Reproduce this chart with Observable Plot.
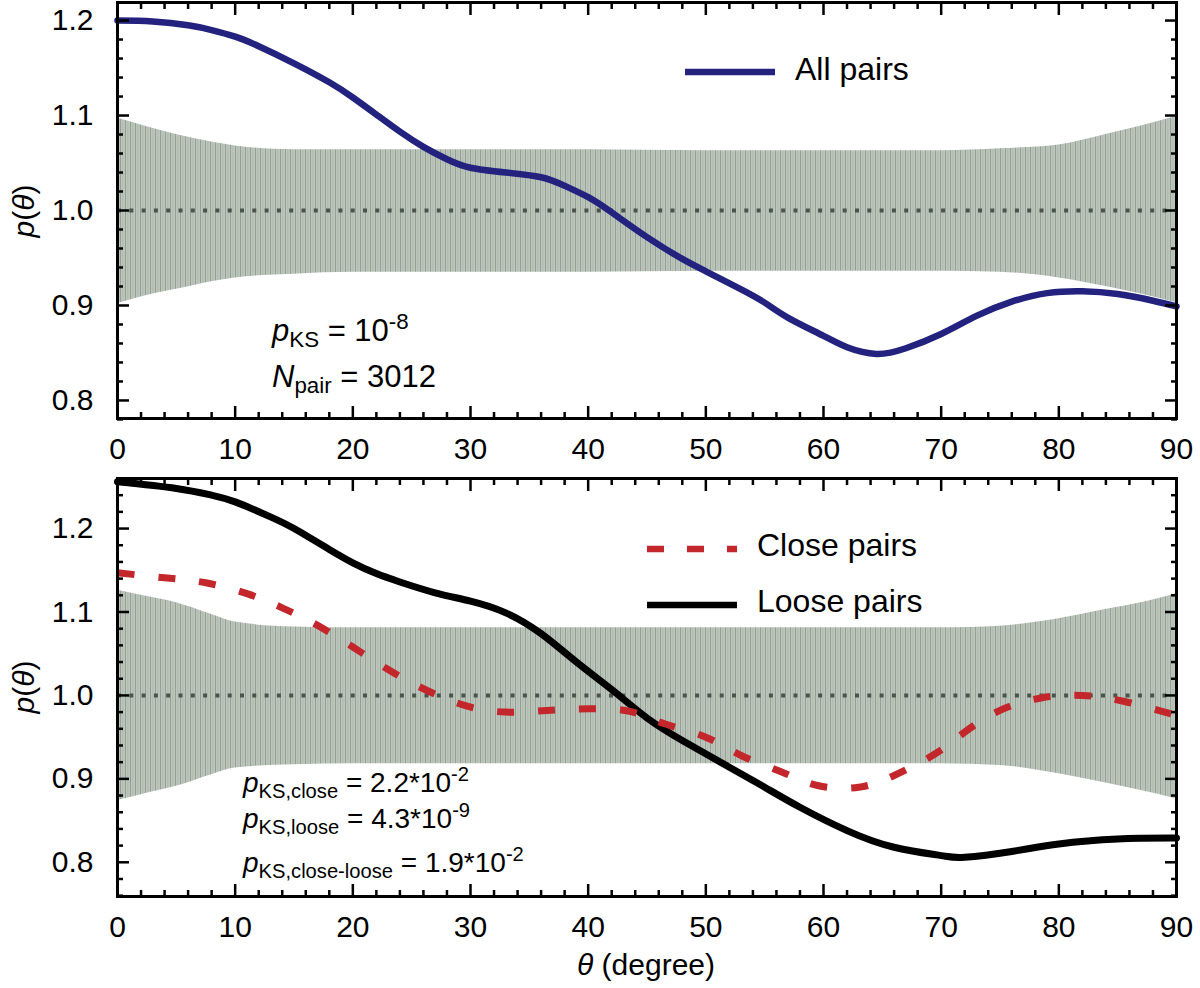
<!DOCTYPE html>
<html>
<head>
<meta charset="utf-8">
<script src="https://cdn.jsdelivr.net/npm/d3@7"></script>
<script src="https://cdn.jsdelivr.net/npm/@observablehq/plot@0.6"></script>
<style>
  body { margin: 0; background: white; }
  #chart svg { display: block; overflow: visible; }
</style>
</head>
<body>
<div id="chart"></div>
<script>
// p(theta), theta in degrees

// top panel: all pairs
const allTheta = [0, 3, 6, 8, 10, 12, 15, 18, 20, 22, 24, 26, 28, 30, 33, 36, 38, 40, 42, 45, 48, 50, 53, 55, 57, 60, 62, 64.5, 67, 70, 73, 76, 79, 82, 85, 88, 90];
const allP = [1.200, 1.199, 1.195, 1.190, 1.183, 1.173, 1.155, 1.135, 1.119, 1.101, 1.083, 1.067, 1.054, 1.045, 1.040, 1.035, 1.026, 1.014, 0.998, 0.972, 0.949, 0.936, 0.917, 0.903, 0.887, 0.868, 0.856, 0.849, 0.855, 0.870, 0.889, 0.904, 0.913, 0.915, 0.912, 0.905, 0.899];

// bottom panel: close pairs (dashed) and loose pairs (solid)
const closeTheta = [0, 4, 7.5, 11, 14, 17, 20, 23, 26, 29.5, 33, 36.5, 40, 43.5, 46.5, 50, 53, 56.5, 59.5, 63, 66, 69.5, 72, 75, 78.5, 82, 85.5, 89, 90];
const closeP = [1.147, 1.141, 1.135, 1.122, 1.105, 1.084, 1.058, 1.031, 1.008, 0.988, 0.980, 0.982, 0.984, 0.981, 0.966, 0.950, 0.928, 0.908, 0.892, 0.890, 0.904, 0.930, 0.956, 0.982, 0.997, 1.000, 0.993, 0.980, 0.976];

const looseTheta = [0, 5, 8, 10, 13, 15, 18, 20, 22, 24, 27, 30, 33, 36, 39, 42, 45, 48, 52, 55, 58, 62, 66, 70, 72, 76, 80, 85, 90];
const looseP = [1.256, 1.248, 1.240, 1.232, 1.214, 1.200, 1.175, 1.159, 1.146, 1.136, 1.123, 1.113, 1.099, 1.074, 1.040, 1.007, 0.973, 0.946, 0.914, 0.890, 0.866, 0.838, 0.818, 0.808, 0.806, 0.813, 0.822, 0.828, 0.829];

// random-pair envelopes (grey bands)
const bandTheta = [0, 2, 5, 8, 10, 15, 20, 30, 40, 50, 60, 70, 75, 80, 84, 87, 90];
const bandTopHi = [1.097, 1.090, 1.080, 1.072, 1.068, 1.064, 1.064, 1.064, 1.064, 1.063, 1.063, 1.063, 1.065, 1.069, 1.080, 1.089, 1.099];
const bandTopLo = [0.902, 0.909, 0.917, 0.925, 0.929, 0.933, 0.935, 0.935, 0.935, 0.936, 0.936, 0.936, 0.935, 0.929, 0.920, 0.912, 0.903];
const bandBotHi = [1.126, 1.120, 1.111, 1.097, 1.088, 1.082, 1.081, 1.081, 1.081, 1.081, 1.081, 1.081, 1.083, 1.092, 1.103, 1.111, 1.122];
const bandBotLo = [0.874, 0.881, 0.891, 0.905, 0.913, 0.917, 0.918, 0.918, 0.918, 0.918, 0.918, 0.918, 0.916, 0.906, 0.895, 0.886, 0.876];

const xMajor = d3.range(0, 91, 10);
const xMinor = d3.range(0, 91, 2).filter(d => d % 10);
const yMajor = [0.8, 0.9, 1.0, 1.1, 1.2];
const yMinorTop = d3.range(78, 122, 2).map(d => d / 100).filter(d => Math.round(d * 100) % 10);
const yMinorBot = d3.range(76, 127, 2).map(d => d / 100).filter(d => Math.round(d * 100) % 10);

const rows = (xs, ys) => xs.map((t, i) => ({theta: t, p: ys[i]}));
const band = (lo, hi) => bandTheta.map((t, i) => ({theta: t, lo: lo[i], hi: hi[i]}));

const font = "'Liberation Sans', Arial, Helvetica, sans-serif";
const blue = "#23237f", red = "#c3262b", dotGrey = "#48554c";

function frameAxes(yMinor) {
  const o = {label: null, strokeWidth: 2.5};
  const blank = () => "";
  return [
    Plot.axisX(xMajor, {anchor: "bottom", tickSize: -12, tickPadding: 31, tickFormat: d => d, ...o}),
    Plot.axisX(xMinor, {anchor: "bottom", tickSize: -6, tickFormat: blank, ...o}),
    Plot.axisX(xMajor, {anchor: "top", tickSize: -12, tickFormat: blank, ...o}),
    Plot.axisX(xMinor, {anchor: "top", tickSize: -6, tickFormat: blank, ...o}),
    Plot.axisY(yMajor, {anchor: "left", tickSize: -12, tickPadding: 36, tickFormat: d3.format(".1f"), ...o}),
    Plot.axisY(yMinor, {anchor: "left", tickSize: -6, tickFormat: blank, ...o}),
    Plot.axisY(yMajor, {anchor: "right", tickSize: -12, tickFormat: blank, ...o}),
    Plot.axisY(yMinor, {anchor: "right", tickSize: -6, tickFormat: blank, ...o}),
    Plot.frame({strokeWidth: 3})
  ];
}

function panel(opts) {
  return Plot.plot({
    width: 1200,
    height: opts.height,
    marginLeft: 117,
    marginRight: 24,
    marginTop: opts.marginTop,
    marginBottom: opts.marginBottom,
    x: {domain: [0, 90]},
    y: {domain: opts.yDomain},
    style: {fontFamily: font, fontSize: "30px", color: "black", background: "white", overflow: "visible"},
    marks: [
      Plot.areaY(opts.band, {x: "theta", y1: "lo", y2: "hi", fill: `url(#${opts.hatch})`, curve: "monotone-x"}),
      Plot.ruleY([1], {stroke: dotGrey, strokeWidth: 4, strokeDasharray: "4,8.3"}),
      ...opts.lines,
      ...frameAxes(opts.yMinor)
    ]
  });
}

function addHatch(svg, id) {
  const p = d3.select(svg).insert("defs", ":first-child")
    .append("pattern").attr("id", id)
    .attr("patternUnits", "userSpaceOnUse").attr("width", 5).attr("height", 20);
  p.append("rect").attr("width", 5).attr("height", 20).attr("fill", "#bcc6bc");
  p.append("rect").attr("x", 0).attr("width", 0.9).attr("height", 20).attr("fill", "#909c90");
  p.append("rect").attr("x", 2.6).attr("width", 0.6).attr("height", 20).attr("fill", "#a6b1a6");
}

// text with italic / sub / superscript pieces
function rich(g, x, y, size, parts, extra) {
  const t = g.append("text").attr("x", x).attr("y", y).attr("text-anchor", "start")
    .attr("font-family", font).attr("font-size", size).attr("fill", "black");
  if (extra) extra(t);
  let shift = 0;
  parts.forEach(p => {
    const s = t.append("tspan").text(p.t);
    const target = p.sub ? size * 0.2 : p.sup ? -size * 0.4 : 0;
    if (target !== shift) { s.attr("dy", target - shift); shift = target; }
    if (p.i) s.attr("font-style", "italic");
    if (p.sub || p.sup) s.attr("font-size", size * 0.72);
  });
  return t;
}

function legendLine(g, x1, x2, y, stroke, dash, label, tx, ty) {
  g.append("line").attr("x1", x1).attr("x2", x2).attr("y1", y).attr("y2", y)
    .attr("stroke", stroke).attr("stroke-width", 6.5).attr("stroke-dasharray", dash);
  g.append("text").attr("x", tx).attr("y", ty).attr("text-anchor", "start").attr("font-family", font)
    .attr("font-size", 32).attr("fill", "black").text(label);
}

function yLabel(g, cy) {
  rich(g, 0, 0, 30, [{t: "p", i: true}, {t: "("}, {t: "θ", i: true}, {t: ")"}],
    t => t.attr("text-anchor", "middle").attr("transform", `translate(34,${cy}) rotate(-90)`));
}

// ---- top panel (svg 0..472) ----
const topChart = panel({
  height: 472, marginTop: 2, marginBottom: 54,
  yDomain: [0.781, 1.219], yMinor: yMinorTop,
  band: band(bandTopLo, bandTopHi), hatch: "hatchTop",
  lines: [
    Plot.line(rows(allTheta, allP), {x: "theta", y: "p", stroke: blue, strokeWidth: 6.5, curve: "natural"})
  ]
});
addHatch(topChart, "hatchTop");
{
  const g = d3.select(topChart).append("g");
  legendLine(g, 685, 775, 72, blue, null, "All pairs", 795, 80);
  rich(g, 272, 341, 31, [{t: "p", i: true}, {t: "KS", sub: true}, {t: " = 10"}, {t: "-8", sup: true}]);
  rich(g, 272, 387, 31, [{t: "N", i: true}, {t: "pair", sub: true}, {t: " = 3012"}]);
  yLabel(g, 211);
}

// ---- bottom panel (svg 472..988) ----
const bottomChart = panel({
  height: 516, marginTop: 6, marginBottom: 92,
  yDomain: [0.759, 1.26], yMinor: yMinorBot,
  band: band(bandBotLo, bandBotHi), hatch: "hatchBot",
  lines: [
    Plot.line(rows(looseTheta, looseP), {x: "theta", y: "p", stroke: "black", strokeWidth: 7, curve: "natural"}),
    Plot.line(rows(closeTheta, closeP), {x: "theta", y: "p", stroke: red, strokeWidth: 7, strokeLinecap: "butt", strokeDasharray: "17,24", curve: "natural"})
  ]
});
addHatch(bottomChart, "hatchBot");
{
  const g = d3.select(bottomChart).append("g");
  legendLine(g, 647, 737, 77, red, "17,23", "Close pairs", 757, 84);
  legendLine(g, 647, 737, 133, "black", null, "Loose pairs", 757, 140);
  rich(g, 243, 320, 28, [{t: "p", i: true}, {t: "KS,close", sub: true}, {t: " = 2.2*10"}, {t: "-2", sup: true}]);
  rich(g, 243, 356, 28, [{t: "p", i: true}, {t: "KS,loose", sub: true}, {t: " = 4.3*10"}, {t: "-9", sup: true}]);
  rich(g, 243, 400, 28, [{t: "p", i: true}, {t: "KS,close-loose", sub: true}, {t: " = 1.9*10"}, {t: "-2", sup: true}]);
  yLabel(g, 215);
  rich(g, 646, 503, 30, [{t: "θ", i: true}, {t: " (degree)"}], t => t.attr("text-anchor", "middle"));
}

d3.select("#chart").append(() => topChart);
d3.select("#chart").append(() => bottomChart);
</script>
</body>
</html>
